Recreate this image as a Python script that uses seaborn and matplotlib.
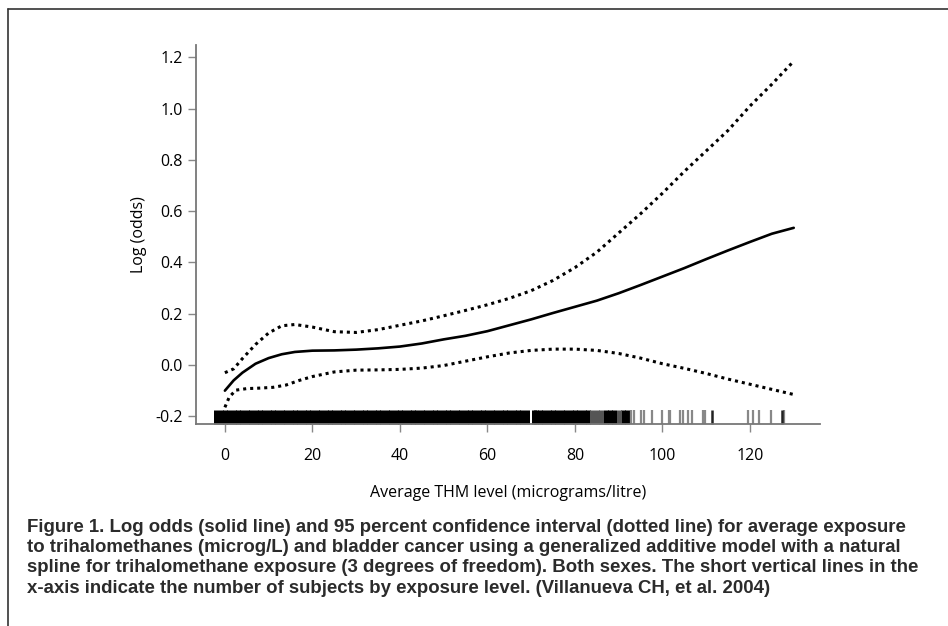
import matplotlib
matplotlib.use("Agg")
import matplotlib.pyplot as plt
import seaborn as sns
import pandas as pd
from matplotlib.lines import Line2D

# ---- data ----
fit_x = [0, 2, 4, 7, 10, 13, 16, 20, 25, 30, 35, 40, 45, 50, 55, 60, 65, 70, 75,
         80, 85, 90, 95, 100, 105, 110, 115, 120, 125, 130]
fit_y = [-0.10, -0.06, -0.03, 0.005, 0.027, 0.042, 0.051, 0.056, 0.057, 0.060, 0.065,
         0.072, 0.084, 0.100, 0.114, 0.132, 0.155, 0.178, 0.203, 0.227, 0.251, 0.280,
         0.312, 0.345, 0.378, 0.413, 0.447, 0.480, 0.512, 0.535]

upper_x = [0, 2, 4, 7, 10, 13, 16, 20, 25, 30, 35, 40, 45, 50, 55, 60, 65, 70, 75,
           80, 85, 90, 95, 100, 105, 110, 115, 120, 125, 130]
upper_y = [-0.03, -0.015, 0.025, 0.08, 0.125, 0.153, 0.158, 0.148, 0.130, 0.127, 0.138,
           0.155, 0.172, 0.192, 0.213, 0.235, 0.260, 0.290, 0.330, 0.380, 0.440, 0.515,
           0.590, 0.670, 0.755, 0.835, 0.915, 1.010, 1.095, 1.185]

lower_x = [0, 1, 2.5, 5, 8, 11, 14, 17, 20, 25, 30, 35, 40, 45, 50, 55, 60, 65, 70, 75,
           80, 85, 90, 95, 100, 105, 110, 115, 120, 125, 130]
lower_y = [-0.165, -0.125, -0.098, -0.092, -0.090, -0.087, -0.078, -0.060, -0.045, -0.027,
           -0.020, -0.019, -0.017, -0.012, -0.002, 0.015, 0.032, 0.047, 0.057, 0.062,
           0.062, 0.057, 0.045, 0.027, 0.005, -0.013, -0.033, -0.055, -0.075, -0.095, -0.115]

# rug: subjects by exposure level
rug_dense = [-2, -1, 0, 1, 2, 3, 4, 5, 6, 7, 8, 9, 10, 11, 12, 13, 14, 15, 16, 17, 18, 19,
             20, 21, 22, 23, 24, 25, 26, 27, 28, 29, 30, 31, 32, 33, 34, 35, 36, 37, 38, 39,
             40, 41, 42, 43, 44, 45, 46, 47, 48, 49, 50, 51, 52, 53, 54, 55, 56, 57, 58, 59,
             60, 61, 62, 63, 64, 65, 66, 67, 68, 69, 70.6, 71, 72, 73, 74, 75, 76, 77, 78, 79,
             80, 81, 82, 83, 87, 88, 89, 91, 92]
rug_gray = [84, 85, 86, 90]
rug_sparse = [92.7, 93.4, 95.0, 95.7, 97.7, 100.0, 101.4, 101.8, 104.1, 104.8, 105.9,
              106.8, 109.2, 109.8, 119.5, 120.6, 122.0, 124.7, 127.7]
rug_sparse_dark = [111.4, 127.4]

x_ticks = [0, 20, 40, 60, 80, 100, 120]
y_ticks = [-0.2, 0.0, 0.2, 0.4, 0.6, 0.8, 1.0, 1.2]
y_ticklabels = ["-0.2", "0.0", "0.2", "0.4", "0.6", "0.8", "1.0", "1.2"]

x_label = "Average THM level (micrograms/litre)"
y_label = "Log (odds)"
caption = [
    "Figure 1. Log odds (solid line) and 95 percent confidence interval (dotted line) for average exposure",
    "to trihalomethanes (microg/L) and bladder cancer using a generalized additive model with a natural",
    "spline for trihalomethane exposure (3 degrees of freedom). Both sexes. The short vertical lines in the",
    "x-axis indicate the number of subjects by exposure level. (Villanueva CH, et al. 2004)",
]

# ---- style ----
sns.set_style("ticks")
plt.rcParams["font.family"] = ["Open Sans", "DejaVu Sans"]

fig = plt.figure(figsize=(9.48, 6.26), dpi=100)
ax = fig.add_axes([196 / 948, 1 - 424 / 626, (820 - 196) / 948, (424 - 45) / 626])

dot_style = dict(color="black", linewidth=2.2, dashes=(1, 1.3), dash_capstyle="butt")
sns.lineplot(x=upper_x, y=upper_y, ax=ax, **dot_style)
sns.lineplot(x=lower_x, y=lower_y, ax=ax, **dot_style)
sns.lineplot(x=fit_x, y=fit_y, ax=ax, color="black", linewidth=1.9)

sns.rugplot(x=rug_dense, ax=ax, height=0.036, color="black", linewidth=3.6, clip_on=False)
sns.rugplot(x=rug_gray, ax=ax, height=0.036, color="#555555", linewidth=3.6, clip_on=False)
sns.rugplot(x=rug_sparse, ax=ax, height=0.036, color="#888888", linewidth=1.6, clip_on=False)
sns.rugplot(x=rug_sparse_dark, ax=ax, height=0.036, color="#222222", linewidth=1.8, clip_on=False)

ax.set_xlim(-6.6, 136)
ax.set_ylim(-0.23, 1.248)
ax.set_xticks(x_ticks)
ax.set_yticks(y_ticks)
ax.set_yticklabels(y_ticklabels)

for s in ["top", "right"]:
    ax.spines[s].set_visible(False)
for s in ["left", "bottom"]:
    ax.spines[s].set_color("#777777")
    ax.spines[s].set_linewidth(1.3)

ax.tick_params(axis="both", colors="#888888", labelcolor="black", length=5.5, width=1.0,
               labelsize=11.5)
ax.tick_params(axis="x", pad=12)
ax.tick_params(axis="y", pad=4)

ax.set_xlabel(x_label, fontsize=11.5, labelpad=15, color="black")
ax.set_ylabel(y_label, fontsize=11.5, labelpad=6, color="black")

# frame around figure (top & left only visible)
fig.add_artist(Line2D([8 / 948, 1.0], [1 - 9 / 626, 1 - 9 / 626], color="#333333",
                      linewidth=1.2, transform=fig.transFigure))
fig.add_artist(Line2D([8 / 948, 8 / 948], [0.0, 1 - 9 / 626], color="#333333",
                      linewidth=1.2, transform=fig.transFigure))

ys = [527, 547.5, 568, 588.5]
for line, yp in zip(caption, ys):
    fig.text(27 / 948, 1 - yp / 626, line, ha="left", va="center", fontsize=13.4,
             fontweight="bold", color="#2b2b2b",
             family=["Liberation Sans Narrow", "Liberation Sans", "DejaVu Sans"])

fig.savefig("out.png", dpi=100)
